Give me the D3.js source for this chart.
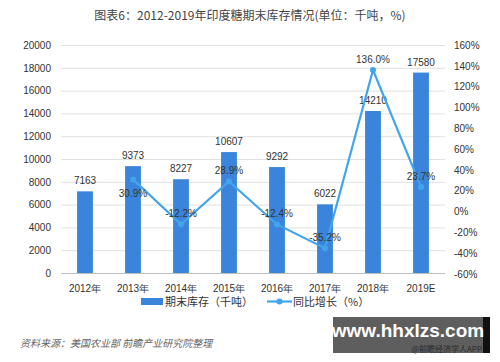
<!DOCTYPE html>
<html><head><meta charset="utf-8">
<script src="https://cdn.jsdelivr.net/npm/d3@7/dist/d3.min.js"></script>
<style>body{margin:0;background:#fff;}svg{display:block;font-family:"Noto Sans CJK SC","Liberation Sans",sans-serif;}</style>
</head><body><svg id="c" width="500" height="362"></svg>
<script>
const categories = ["2012年","2013年","2014年","2015年","2016年","2017年","2018年","2019E"];
const stockValues = [7163,9373,8227,10607,9292,6022,14210,17580];
const growthValues = [null,30.9,-12.2,28.9,-12.4,-35.2,136.0,23.7];
const leftTicks = [0,2000,4000,6000,8000,10000,12000,14000,16000,18000,20000];
const rightTicks = [-60,-40,-20,0,20,40,60,80,100,120,140,160];
const growthLabelPos = [null,"below","above","above","above","above","above","above"];

const svg = d3.select("#c");
const barColor = "#3b84dc", lineColor = "#42a5ec", textColor = "#333";
const x = d3.scaleBand().domain(categories).range([61,445]).paddingInner(0.67).paddingOuter(0.335);
const yL = d3.scaleLinear().domain([0,20000]).range([273,45]);
const yR = d3.scaleLinear().domain([-60,160]).range([274,45]);

svg.append("text").attr("x",250).attr("y",20).attr("text-anchor","middle")
  .attr("font-size",12).attr("fill","#444").text("图表6：2012-2019年印度糖期末库存情况(单位：千吨，%)");

// gridlines
svg.append("g").selectAll("line").data(leftTicks).join("line")
  .attr("x1",61).attr("x2",445).attr("y1",d=>yL(d)+0.5).attr("y2",d=>yL(d)+0.5)
  .attr("stroke",d=>d===0?"#bfbfbf":"#e0e0e0").attr("stroke-width",1);

// left axis
const gl = svg.append("g").attr("transform","translate(51,0)")
  .call(d3.axisLeft(yL).tickValues(leftTicks).tickSize(0).tickPadding(0).tickFormat(d3.format("d")));
gl.select(".domain").remove();
gl.selectAll("text").attr("font-size",10).attr("fill",textColor).attr("font-family","Liberation Sans, Arial, sans-serif");

// right axis
const gr = svg.append("g").attr("transform","translate(454,0)")
  .call(d3.axisRight(yR).tickValues(rightTicks).tickSize(0).tickPadding(0).tickFormat(d=>d+"%"));
gr.select(".domain").remove();
gr.selectAll("text").attr("font-size",10).attr("fill",textColor).attr("font-family","Liberation Sans, Arial, sans-serif");

// x axis
const gx = svg.append("g").attr("transform","translate(0,274)")
  .call(d3.axisBottom(x).tickSize(0).tickPadding(11));
gx.select(".domain").remove();
gx.selectAll("text").attr("font-size",10).attr("fill",textColor);

// bars
svg.append("g").selectAll("rect").data(stockValues).join("rect")
  .attr("x",(d,i)=>x(categories[i])).attr("width",x.bandwidth())
  .attr("y",d=>yL(d)).attr("height",d=>yL(0)-yL(d)).attr("fill",barColor);
svg.append("g").selectAll("text").data(stockValues).join("text")
  .attr("x",(d,i)=>x(categories[i])+x.bandwidth()/2).attr("y",d=>yL(d)-7)
  .attr("text-anchor","middle").attr("font-size",10).attr("fill",textColor)
  .attr("font-family","Liberation Sans, Arial, sans-serif").text(d=>d);

// line
const pts = growthValues.map((v,i)=>({v,i})).filter(p=>p.v!==null);
const cx = p=>x(categories[p.i])+x.bandwidth()/2;
svg.append("path").datum(pts)
  .attr("d",d3.line().x(cx).y(p=>yR(p.v)))
  .attr("fill","none").attr("stroke",lineColor).attr("stroke-width",2.2);
svg.append("g").selectAll("circle").data(pts).join("circle")
  .attr("cx",cx).attr("cy",p=>yR(p.v)).attr("r",3).attr("fill",lineColor);
svg.append("g").selectAll("text").data(pts).join("text")
  .attr("x",cx).attr("y",p=>growthLabelPos[p.i]==="below"?yR(p.v)+18:yR(p.v)-7)
  .attr("text-anchor","middle").attr("font-size",10).attr("fill",textColor)
  .attr("font-family","Liberation Sans, Arial, sans-serif").text(p=>p.v.toFixed(1)+"%");

// legend
const lg = svg.append("g");
lg.append("rect").attr("x",141).attr("y",298).attr("width",22).attr("height",7).attr("fill",barColor);
lg.append("text").attr("x",165).attr("y",306).attr("font-size",11).attr("fill",textColor).text("期末库存（千吨）");
lg.append("line").attr("x1",267).attr("x2",292).attr("y1",301.5).attr("y2",301.5).attr("stroke",lineColor).attr("stroke-width",2.2);
lg.append("circle").attr("cx",279.5).attr("cy",301.5).attr("r",3).attr("fill",lineColor);
lg.append("text").attr("x",293).attr("y",306).attr("font-size",11).attr("fill",textColor).text("同比增长（%）");

// source
svg.append("text").attr("x",20).attr("y",347).attr("font-size",10).attr("font-style","italic")
  .attr("fill","#666").text("资料来源：美国农业部 前瞻产业研究院整理");

// watermark box
svg.append("rect").attr("x",333).attr("y",317).attr("width",150).attr("height",36).attr("fill","#5e5e5e");
svg.append("rect").attr("x",483).attr("y",317).attr("width",7).attr("height",36).attr("fill","#111");
svg.append("text").attr("x",408).attr("y",337).attr("text-anchor","middle").attr("font-size",19)
  .attr("font-weight","bold").attr("fill","#fff").attr("font-family","Liberation Sans, Arial, sans-serif").text("www.hhxlzs.com");
svg.append("text").attr("x",482).attr("y",352).attr("text-anchor","end").attr("font-size",8)
  .attr("fill","#2a2a2a").text("@前瞻经济学人APP");
</script></body></html>
